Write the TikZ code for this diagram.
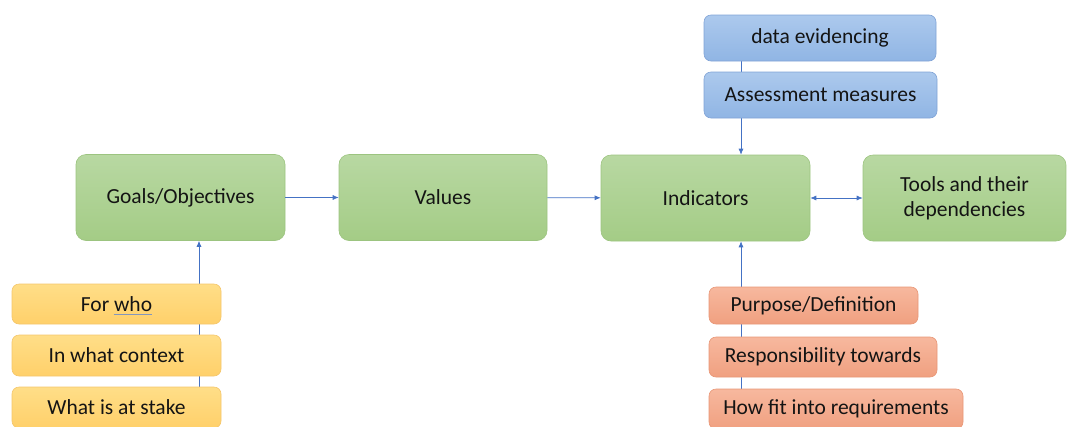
\documentclass[tikz,border=0pt]{standalone}
\usepackage{fontspec}
\setmainfont{Carlito}
\usetikzlibrary{arrows.meta,backgrounds}
\definecolor{linkblue}{RGB}{68,114,196}
\definecolor{gTop}{RGB}{184,216,162}
\definecolor{gBot}{RGB}{164,204,134}
\definecolor{gLine}{RGB}{156,196,128}
\definecolor{bTop}{RGB}{172,201,237}
\definecolor{bBot}{RGB}{144,181,228}
\definecolor{bLine}{RGB}{128,163,214}
\definecolor{yTop}{RGB}{255,222,136}
\definecolor{yBot}{RGB}{255,208,106}
\definecolor{yLine}{RGB}{244,198,108}
\definecolor{oTop}{RGB}{247,184,158}
\definecolor{oBot}{RGB}{240,160,128}
\definecolor{oLine}{RGB}{232,150,118}
\definecolor{spell}{RGB}{130,150,190}
\tikzset{
  x=1pt, y=-1pt,
  box/.style={rectangle, rounded corners=#1, inner sep=0pt, line width=0.6pt,
    font=\fontsize{21.5}{25}\selectfont, text=black!92, align=center},
  bigbox/.style={box=10pt, draw=gLine, top color=gTop, bottom color=gBot, minimum height=86pt},
  bluebox/.style={box=7pt, draw=bLine, top color=bTop, bottom color=bBot, minimum height=46pt},
  yelbox/.style={box=7pt, draw=yLine, top color=yTop, bottom color=yBot, minimum height=41pt},
  orbox/.style={box=7pt, draw=oLine, top color=oTop, bottom color=oBot, minimum height=40pt},
  arr/.style={draw=linkblue, line width=0.7pt, -{Latex[length=6pt,width=5pt]}},
  dblarr/.style={draw=linkblue, line width=0.7pt, {Latex[length=6pt,width=5pt]}-{Latex[length=6pt,width=5pt]}}
}
\begin{document}
\begin{tikzpicture}
\useasboundingbox (0,0) rectangle (1067,426);

% main chain
\node[bigbox, minimum width=209pt] (goals) at (180.5,197.5) {Goals/Objectives};
\node[bigbox, minimum width=208pt] (values) at (443,197.5) {Values};
\node[bigbox, minimum width=209pt] (ind) at (705.5,198) {Indicators};
\node[bigbox, minimum width=203pt] (tools) at (964.5,198) {Tools and their\\dependencies};

% evidence boxes above the indicators
\node[bluebox, minimum width=232pt] (data) at (820,38) {data evidencing};
\node[bluebox, minimum width=233pt] (assess) at (820.5,95) {Assessment measures};

% questions below the goals
\node[yelbox, minimum width=209pt, minimum height=40pt] (forwho) at (116.5,304) {For who};
\node[yelbox, minimum width=209pt] (context) at (116.5,355.5) {In what context};
\node[yelbox, minimum width=209pt] (stake) at (116.5,407.5) {What is at stake};
% spell-check mark under "who"
\draw[spell, line width=1.5pt] (113.5,314.5) -- (151.5,314.5);

% properties below the indicators
\node[orbox, minimum width=209pt, minimum height=37pt] (purpose) at (813.5,305.5) {Purpose/Definition};
\node[orbox, minimum width=228pt] (resp) at (823,357) {Responsibility towards};
\node[orbox, minimum width=254pt] (fit) at (836,409) {How fit into requirements};

% connector columns
\coordinate (lx) at (199,0);
\coordinate (rx) at (741,0);

\begin{scope}[on background layer]
  \draw[arr] (stake.north -| lx) -- (goals.south -| lx);
  \draw[arr] (fit.north -| rx) -- (ind.south -| rx);
  \draw[arr] (data.south -| rx) -- (ind.north -| rx);
\end{scope}

\draw[arr] (goals) -- (values);
\draw[arr] (values) -- (ind);
\draw[dblarr] (ind) -- (tools);
\end{tikzpicture}
\end{document}
